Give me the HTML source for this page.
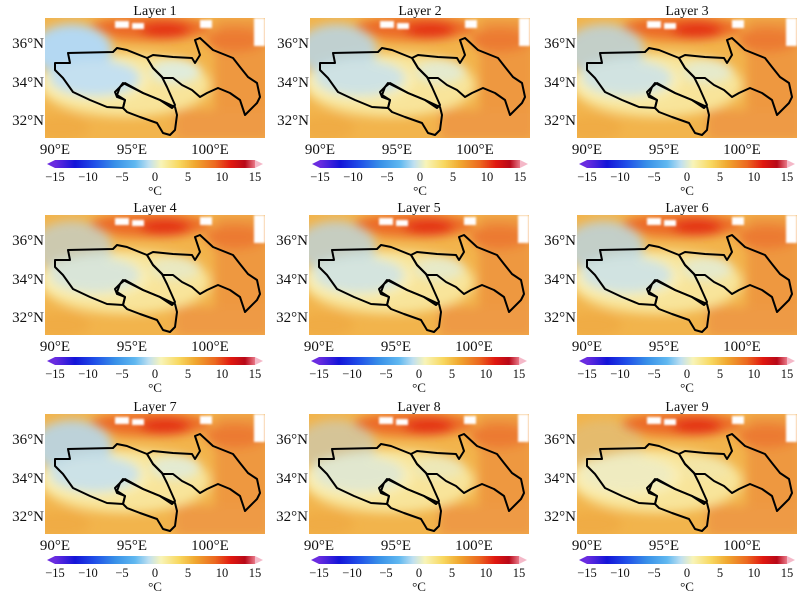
<!DOCTYPE html>
<html><head><meta charset="utf-8"><style>
html,body{margin:0;padding:0;background:#fff;}
svg{display:block;font-family:"Liberation Serif",serif;}
</style></head><body>
<svg width="800" height="600" viewBox="0 0 800 600" xmlns="http://www.w3.org/2000/svg">
<defs>
<filter id="bl" x="-30%" y="-30%" width="160%" height="160%"><feGaussianBlur stdDeviation="5"/></filter>
<filter id="bl2"><feGaussianBlur stdDeviation="1"/></filter>
<clipPath id="mc"><rect x="45" y="18" width="220" height="120"/></clipPath>
<linearGradient id="cb" x1="0" x2="1" y1="0" y2="0">
<stop offset="0" stop-color="#6a2ce0"/><stop offset="0.1" stop-color="#1414d8"/>
<stop offset="0.2" stop-color="#2050e8"/><stop offset="0.3" stop-color="#3890e8"/>
<stop offset="0.4" stop-color="#60b8f0"/><stop offset="0.47" stop-color="#c0e0f0"/>
<stop offset="0.53" stop-color="#f8f4b8"/><stop offset="0.62" stop-color="#f8d860"/>
<stop offset="0.7" stop-color="#f0a830"/><stop offset="0.8" stop-color="#ec6820"/>
<stop offset="0.88" stop-color="#e01810"/><stop offset="0.95" stop-color="#b80818"/>
<stop offset="1" stop-color="#e87888"/>
</linearGradient>
<g id="base" clip-path="url(#mc)">
<rect x="45" y="18" width="220" height="120" fill="#f2b44c"/>
<g filter="url(#bl)">
<ellipse cx="125" cy="85" rx="85" ry="32" fill="#f8e49a"/>
<ellipse cx="95" cy="80" rx="55" ry="22" fill="#faeeb4"/>
<rect x="215" y="18" width="55" height="120" fill="#ee9840"/>
<rect x="175" y="110" width="95" height="30" fill="#ee9a44"/>
<ellipse cx="150" cy="28" rx="60" ry="12" fill="#ec6a28"/>
<ellipse cx="165" cy="30" rx="25" ry="8" fill="#e43018"/>
<ellipse cx="235" cy="40" rx="30" ry="12" fill="#ec7a30"/>
<ellipse cx="60" cy="128" rx="30" ry="12" fill="#f0ac44"/>
</g>
<g filter="url(#bl2)" fill="#fff">
<rect x="115" y="21" width="14" height="7"/><rect x="132" y="23" width="12" height="6"/><rect x="200" y="20" width="12" height="8"/><rect x="254" y="18" width="11" height="28"/>
</g>
</g>
<g id="blue" clip-path="url(#mc)" filter="url(#bl)">
<ellipse cx="72" cy="50" rx="40" ry="26" fill="#b4d8f2"/>
<ellipse cx="95" cy="78" rx="45" ry="18" fill="#c4e0f0"/>
<ellipse cx="175" cy="72" rx="25" ry="12" fill="#e0ecdc"/>
</g>
<g id="ol" fill="none" stroke="#000" stroke-width="2" stroke-linejoin="round">
<polygon points="68,53 113,52 117,48 127,50 147,58 153,68 162,77 167,87 175,105 172,108 160,100 143,93 127,85 123,83 120,87 117,95 125,100 123,108 107,107 90,100 73,92 63,78 55,70 55,63 70,63"/>
<polygon points="120,87 125,83 143,93 160,100 175,107 177,115 175,130 170,135 163,133 157,123 140,117 127,112 123,108 125,100 117,97 115,92"/>
<polygon points="147,58 153,55 173,57 192,58 195,63 200,55 195,40 200,38 213,50 233,58 240,67 248,77 257,83 260,97 257,103 250,110 245,115 240,100 230,93 218,88 207,93 200,97 192,90 182,85 173,78 163,78 162,77 153,68"/>
</g>
<g id="cbar">
<polygon points="47,164 55,160 55,168" fill="#6a2ce0"/>
<rect x="55" y="160" width="200" height="8" fill="url(#cb)"/>
<polygon points="255,160 263,164 255,168" fill="#f4b8c8"/>
</g>
</defs>

<g font-size="14" fill="#111">
<g transform="translate(0,0)"><use href="#base"/><use href="#blue" opacity="1"/><use href="#ol"/><use href="#cbar"/>
<text x="155" y="15" text-anchor="middle">Layer 1</text>
<g font-size="15"><text x="44" y="48" text-anchor="end">36°N</text><text x="44" y="87" text-anchor="end">34°N</text><text x="44" y="125" text-anchor="end">32°N</text>
<text x="55" y="154" text-anchor="middle">90°E</text><text x="132" y="154" text-anchor="middle">95°E</text><text x="210" y="154" text-anchor="middle">100°E</text></g>
<g font-size="12.5" text-anchor="middle"><text x="55" y="181">−15</text><text x="88" y="181">−10</text><text x="122" y="181">−5</text><text x="155" y="181">0</text><text x="188" y="181">5</text><text x="222" y="181">10</text><text x="255" y="181">15</text><text x="155" y="195" font-size="13">°C</text></g></g>

<g transform="translate(265,0)"><use href="#base"/><use href="#blue" opacity="0.8"/><use href="#ol"/><use href="#cbar"/>
<text x="155" y="15" text-anchor="middle">Layer 2</text>
<g font-size="15"><text x="44" y="48" text-anchor="end">36°N</text><text x="44" y="87" text-anchor="end">34°N</text><text x="44" y="125" text-anchor="end">32°N</text>
<text x="55" y="154" text-anchor="middle">90°E</text><text x="132" y="154" text-anchor="middle">95°E</text><text x="210" y="154" text-anchor="middle">100°E</text></g>
<g font-size="12.5" text-anchor="middle"><text x="55" y="181">−15</text><text x="88" y="181">−10</text><text x="122" y="181">−5</text><text x="155" y="181">0</text><text x="188" y="181">5</text><text x="222" y="181">10</text><text x="255" y="181">15</text><text x="155" y="195" font-size="13">°C</text></g></g>

<g transform="translate(532,0)"><use href="#base"/><use href="#blue" opacity="0.75"/><use href="#ol"/><use href="#cbar"/>
<text x="155" y="15" text-anchor="middle">Layer 3</text>
<g font-size="15"><text x="44" y="48" text-anchor="end">36°N</text><text x="44" y="87" text-anchor="end">34°N</text><text x="44" y="125" text-anchor="end">32°N</text>
<text x="55" y="154" text-anchor="middle">90°E</text><text x="132" y="154" text-anchor="middle">95°E</text><text x="210" y="154" text-anchor="middle">100°E</text></g>
<g font-size="12.5" text-anchor="middle"><text x="55" y="181">−15</text><text x="88" y="181">−10</text><text x="122" y="181">−5</text><text x="155" y="181">0</text><text x="188" y="181">5</text><text x="222" y="181">10</text><text x="255" y="181">15</text><text x="155" y="195" font-size="13">°C</text></g></g>

<g transform="translate(0,197)"><use href="#base"/><use href="#blue" opacity="0.6"/><use href="#ol"/><use href="#cbar"/>
<text x="155" y="15" text-anchor="middle">Layer 4</text>
<g font-size="15"><text x="44" y="48" text-anchor="end">36°N</text><text x="44" y="87" text-anchor="end">34°N</text><text x="44" y="125" text-anchor="end">32°N</text>
<text x="55" y="154" text-anchor="middle">90°E</text><text x="132" y="154" text-anchor="middle">95°E</text><text x="210" y="154" text-anchor="middle">100°E</text></g>
<g font-size="12.5" text-anchor="middle"><text x="55" y="181">−15</text><text x="88" y="181">−10</text><text x="122" y="181">−5</text><text x="155" y="181">0</text><text x="188" y="181">5</text><text x="222" y="181">10</text><text x="255" y="181">15</text><text x="155" y="195" font-size="13">°C</text></g></g>

<g transform="translate(264,197)"><use href="#base"/><use href="#blue" opacity="0.7"/><use href="#ol"/><use href="#cbar"/>
<text x="155" y="15" text-anchor="middle">Layer 5</text>
<g font-size="15"><text x="44" y="48" text-anchor="end">36°N</text><text x="44" y="87" text-anchor="end">34°N</text><text x="44" y="125" text-anchor="end">32°N</text>
<text x="55" y="154" text-anchor="middle">90°E</text><text x="132" y="154" text-anchor="middle">95°E</text><text x="210" y="154" text-anchor="middle">100°E</text></g>
<g font-size="12.5" text-anchor="middle"><text x="55" y="181">−15</text><text x="88" y="181">−10</text><text x="122" y="181">−5</text><text x="155" y="181">0</text><text x="188" y="181">5</text><text x="222" y="181">10</text><text x="255" y="181">15</text><text x="155" y="195" font-size="13">°C</text></g></g>

<g transform="translate(532,197)"><use href="#base"/><use href="#blue" opacity="0.75"/><use href="#ol"/><use href="#cbar"/>
<text x="155" y="15" text-anchor="middle">Layer 6</text>
<g font-size="15"><text x="44" y="48" text-anchor="end">36°N</text><text x="44" y="87" text-anchor="end">34°N</text><text x="44" y="125" text-anchor="end">32°N</text>
<text x="55" y="154" text-anchor="middle">90°E</text><text x="132" y="154" text-anchor="middle">95°E</text><text x="210" y="154" text-anchor="middle">100°E</text></g>
<g font-size="12.5" text-anchor="middle"><text x="55" y="181">−15</text><text x="88" y="181">−10</text><text x="122" y="181">−5</text><text x="155" y="181">0</text><text x="188" y="181">5</text><text x="222" y="181">10</text><text x="255" y="181">15</text><text x="155" y="195" font-size="13">°C</text></g></g>

<g transform="translate(0,396)"><use href="#base"/><use href="#blue" opacity="0.85"/><use href="#ol"/><use href="#cbar"/>
<text x="155" y="15" text-anchor="middle">Layer 7</text>
<g font-size="15"><text x="44" y="48" text-anchor="end">36°N</text><text x="44" y="87" text-anchor="end">34°N</text><text x="44" y="125" text-anchor="end">32°N</text>
<text x="55" y="154" text-anchor="middle">90°E</text><text x="132" y="154" text-anchor="middle">95°E</text><text x="210" y="154" text-anchor="middle">100°E</text></g>
<g font-size="12.5" text-anchor="middle"><text x="55" y="181">−15</text><text x="88" y="181">−10</text><text x="122" y="181">−5</text><text x="155" y="181">0</text><text x="188" y="181">5</text><text x="222" y="181">10</text><text x="255" y="181">15</text><text x="155" y="195" font-size="13">°C</text></g></g>

<g transform="translate(264,396)"><use href="#base"/><use href="#blue" opacity="0.45"/><use href="#ol"/><use href="#cbar"/>
<text x="155" y="15" text-anchor="middle">Layer 8</text>
<g font-size="15"><text x="44" y="48" text-anchor="end">36°N</text><text x="44" y="87" text-anchor="end">34°N</text><text x="44" y="125" text-anchor="end">32°N</text>
<text x="55" y="154" text-anchor="middle">90°E</text><text x="132" y="154" text-anchor="middle">95°E</text><text x="210" y="154" text-anchor="middle">100°E</text></g>
<g font-size="12.5" text-anchor="middle"><text x="55" y="181">−15</text><text x="88" y="181">−10</text><text x="122" y="181">−5</text><text x="155" y="181">0</text><text x="188" y="181">5</text><text x="222" y="181">10</text><text x="255" y="181">15</text><text x="155" y="195" font-size="13">°C</text></g></g>

<g transform="translate(532,396)"><use href="#base"/><use href="#blue" opacity="0.2"/><use href="#ol"/><use href="#cbar"/>
<text x="155" y="15" text-anchor="middle">Layer 9</text>
<g font-size="15"><text x="44" y="48" text-anchor="end">36°N</text><text x="44" y="87" text-anchor="end">34°N</text><text x="44" y="125" text-anchor="end">32°N</text>
<text x="55" y="154" text-anchor="middle">90°E</text><text x="132" y="154" text-anchor="middle">95°E</text><text x="210" y="154" text-anchor="middle">100°E</text></g>
<g font-size="12.5" text-anchor="middle"><text x="55" y="181">−15</text><text x="88" y="181">−10</text><text x="122" y="181">−5</text><text x="155" y="181">0</text><text x="188" y="181">5</text><text x="222" y="181">10</text><text x="255" y="181">15</text><text x="155" y="195" font-size="13">°C</text></g></g>
</g>
</svg>
</body></html>
